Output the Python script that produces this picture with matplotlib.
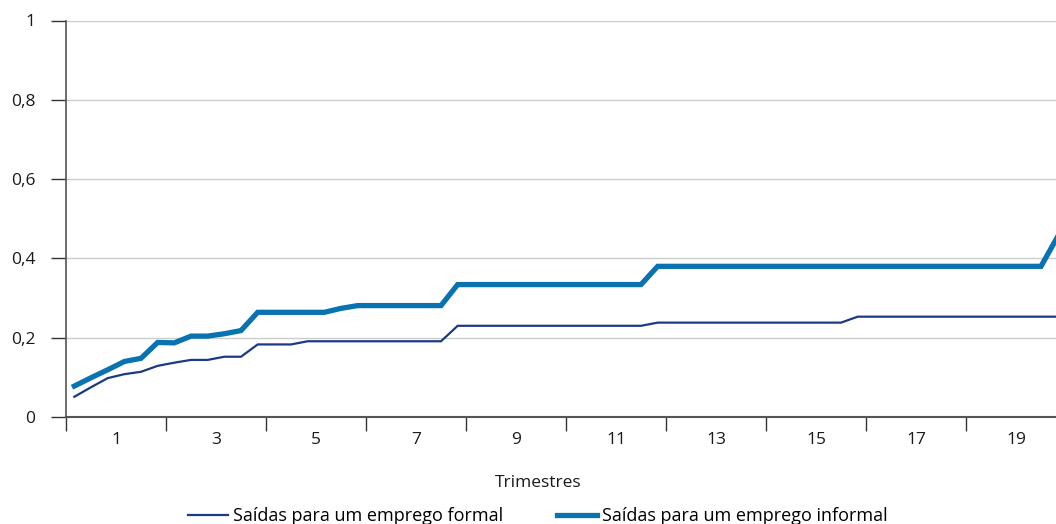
import matplotlib
matplotlib.use("Agg")
import matplotlib.pyplot as plt
import numpy as np

plt.rcParams['font.family'] = ['Open Sans', 'DejaVu Sans']

# Monthly observations (60 months = 20 trimesters)
formal = [0.051, 0.075, 0.098, 0.108, 0.114, 0.129, 0.137, 0.144, 0.144, 0.152,
          0.152, 0.183, 0.183, 0.183, 0.191, 0.191, 0.191, 0.191, 0.191, 0.191,
          0.191, 0.191, 0.191, 0.230, 0.230, 0.230, 0.230, 0.230, 0.230, 0.230,
          0.230, 0.230, 0.230, 0.230, 0.230, 0.238, 0.238, 0.238, 0.238, 0.238,
          0.238, 0.238, 0.238, 0.238, 0.238, 0.238, 0.238, 0.253, 0.253, 0.253,
          0.253, 0.253, 0.253, 0.253, 0.253, 0.253, 0.253, 0.253, 0.253, 0.253]
informal = [0.078, 0.099, 0.119, 0.140, 0.148, 0.188, 0.187, 0.204, 0.204, 0.210,
            0.218, 0.264, 0.264, 0.264, 0.264, 0.264, 0.274, 0.281, 0.281, 0.281,
            0.281, 0.281, 0.281, 0.334, 0.334, 0.334, 0.334, 0.334, 0.334, 0.334,
            0.334, 0.334, 0.334, 0.334, 0.334, 0.380, 0.380, 0.380, 0.380, 0.380,
            0.380, 0.380, 0.380, 0.380, 0.380, 0.380, 0.380, 0.380, 0.380, 0.380,
            0.380, 0.380, 0.380, 0.380, 0.380, 0.380, 0.380, 0.380, 0.380, 0.455]
tick_labels = ["1", "3", "5", "7", "9", "11", "13", "15", "17", "19"]
yticks = [0, 0.2, 0.4, 0.6, 0.8, 1]
ytick_labels = ["0", "0,2", "0,4", "0,6", "0,8", "1"]
label_formal = "Saídas para um emprego formal"
label_informal = "Saídas para um emprego informal"

W, H = 1056, 524
fig = plt.figure(figsize=(W / 100, H / 100), dpi=100)
ax = fig.add_axes([66 / W, 107 / H, 1000 / W, 396.5 / H])

x = np.arange(len(formal)) + 0.5
c_formal = '#1B3A85'
c_informal = '#0873B0'
l1, = ax.plot(x, formal, color=c_formal, lw=1.6, label=label_formal,
              solid_joinstyle='miter', clip_on=False)
l2, = ax.plot(x, informal, color=c_informal, lw=3.8, label=label_informal,
              solid_joinstyle='miter', clip_on=False)

ax.set_xlim(0, 60)
ax.set_ylim(0, 1)
ax.set_xticks(np.arange(0, 61, 6))
ax.set_xticklabels([])
ax.set_xticks(np.arange(3, 60, 6), minor=True)
ax.set_xticklabels(tick_labels, minor=True)
ax.tick_params(axis='x', which='major', length=10, width=1, color='#333333', direction='out')
ax.tick_params(axis='x', which='minor', length=0, pad=11, labelsize=12.5, labelcolor='#1a1a1a')

ax.set_yticks(yticks)
ax.set_yticklabels(ytick_labels)
ax.tick_params(axis='y', length=11, width=1, color='#333333', pad=11, labelsize=12.5,
               labelcolor='#1a1a1a')

ax.grid(axis='y', color='#CCCCCC', lw=1)
ax.set_axisbelow(True)
for s in ['top', 'right']:
    ax.spines[s].set_visible(False)
ax.spines['left'].set_color('#555555')
ax.spines['bottom'].set_color('#555555')
ax.spines['left'].set_linewidth(1.2)
ax.spines['bottom'].set_linewidth(1.5)

fig.text(538 / W, 1 - 483 / H, "Trimestres", ha='center', va='center', fontsize=12.5,
         color='#1a1a1a')

fig.legend(handles=[l1, l2], loc='center', bbox_to_anchor=(538 / W, 1 - 516 / H),
           ncol=2, frameon=False, fontsize=13, handlelength=2.2, handletextpad=0.28,
           columnspacing=3.0, borderpad=0)

fig.savefig("out.png", dpi=100)
